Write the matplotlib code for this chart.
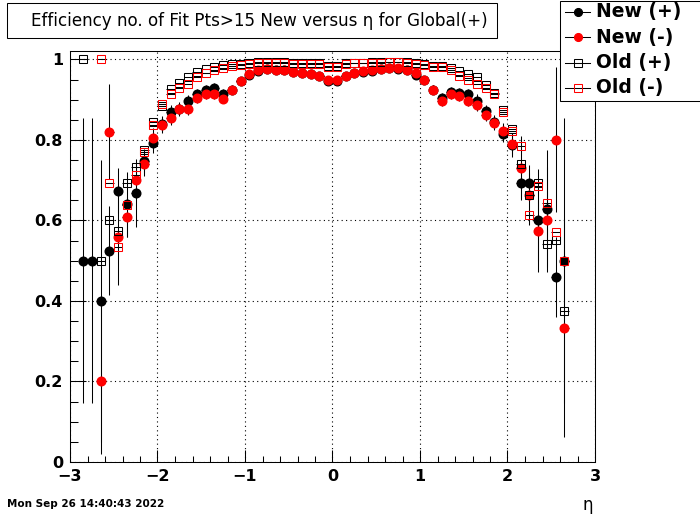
import numpy as np
import matplotlib
matplotlib.use('Agg')
import matplotlib.pyplot as plt
from matplotlib.patches import Rectangle
from matplotlib.lines import Line2D

nan = np.nan

# bin centres in eta
eta = [-2.85, -2.75, -2.65, -2.55, -2.45, -2.35, -2.25, -2.15, -2.05, -1.95,
       -1.85, -1.75, -1.65, -1.55, -1.45, -1.35, -1.25, -1.15, -1.05, -0.95,
       -0.85, -0.75, -0.65, -0.55, -0.45, -0.35, -0.25, -0.15, -0.05, 0.05,
       0.15, 0.25, 0.35, 0.45, 0.55, 0.65, 0.75, 0.85, 0.95, 1.05,
       1.15, 1.25, 1.35, 1.45, 1.55, 1.65, 1.75, 1.85, 1.95, 2.05,
       2.15, 2.25, 2.35, 2.45, 2.55, 2.65]

# New (+) efficiency and error
new_pos = [0.500, 0.500, 0.400, 0.525, 0.674, 0.640, 0.668, 0.748, 0.793, 0.840,
           0.869, 0.878, 0.896, 0.913, 0.924, 0.929, 0.915, 0.925, 0.946, 0.962,
           0.972, 0.976, 0.975, 0.973, 0.968, 0.966, 0.963, 0.958, 0.947, 0.947,
           0.958, 0.966, 0.970, 0.972, 0.976, 0.978, 0.977, 0.974, 0.962, 0.948,
           0.925, 0.905, 0.919, 0.917, 0.913, 0.898, 0.871, 0.845, 0.816, 0.787,
           0.693, 0.693, 0.600, 0.629, 0.460, 0.500]
new_pos_err = [0.354, 0.354, 0.350, 0.111, 0.056, 0.080, 0.085, 0.030, 0.025, 0.020,
               0.018, 0.016, 0.015, 0.013, 0.012, 0.012, 0.012, 0.011, 0.009, 0.007,
               0.006, 0.006, 0.006, 0.006, 0.006, 0.006, 0.006, 0.007, 0.008, 0.008,
               0.007, 0.006, 0.006, 0.006, 0.006, 0.006, 0.006, 0.006, 0.007, 0.009,
               0.011, 0.012, 0.012, 0.012, 0.013, 0.015, 0.016, 0.018, 0.020, 0.030,
               0.040, 0.025, 0.127, 0.145, 0.100, 0.354]

# New (-) efficiency and error
new_neg = [nan, nan, 0.200, 0.820, 0.560, 0.609, 0.700, 0.741, 0.805, 0.838,
           0.855, 0.876, 0.877, 0.905, 0.913, 0.913, 0.903, 0.924, 0.946, 0.963,
           0.974, 0.977, 0.975, 0.973, 0.969, 0.967, 0.964, 0.959, 0.948, 0.948,
           0.959, 0.967, 0.971, 0.973, 0.977, 0.979, 0.979, 0.975, 0.967, 0.948,
           0.925, 0.896, 0.913, 0.910, 0.898, 0.886, 0.863, 0.842, 0.822, 0.791,
           0.731, 0.664, 0.575, 0.602, 0.801, 0.333]
new_neg_err = [0.0, 0.0, 0.180, 0.118, 0.120, 0.050, 0.040, 0.030, 0.025, 0.020,
               0.018, 0.016, 0.015, 0.013, 0.012, 0.012, 0.012, 0.011, 0.009, 0.007,
               0.006, 0.006, 0.006, 0.006, 0.006, 0.006, 0.006, 0.007, 0.008, 0.008,
               0.007, 0.006, 0.006, 0.006, 0.006, 0.006, 0.006, 0.006, 0.007, 0.009,
               0.011, 0.012, 0.012, 0.012, 0.013, 0.015, 0.016, 0.018, 0.020, 0.025,
               0.080, 0.075, 0.075, 0.130, 0.180, 0.270]

# Old (+) and Old (-) efficiency
old_pos = [1.000, nan, 0.500, 0.602, 0.575, 0.692, 0.732, 0.775, 0.845, 0.885,
           0.927, 0.942, 0.957, 0.969, 0.977, 0.982, 0.985, 0.988, 0.989, 0.991,
           0.993, 0.994, 0.994, 0.993, 0.991, 0.990, 0.990, 0.990, 0.984, 0.984,
           0.990, 0.991, 0.991, 0.993, 0.993, 0.994, 0.994, 0.993, 0.990, 0.988,
           0.983, 0.983, 0.979, 0.971, 0.963, 0.957, 0.936, 0.916, 0.874, 0.827,
           0.741, 0.664, 0.692, 0.542, 0.552, 0.375]
old_neg = [nan, nan, 1.000, 0.693, 0.535, 0.638, 0.714, 0.770, 0.836, 0.890,
           0.915, 0.928, 0.940, 0.957, 0.967, 0.973, 0.979, 0.983, 0.985, 0.989,
           0.990, 0.992, 0.992, 0.991, 0.989, 0.989, 0.989, 0.989, 0.982, 0.982,
           0.989, 0.990, 0.990, 0.992, 0.992, 0.993, 0.993, 0.992, 0.989, 0.986,
           0.982, 0.982, 0.973, 0.959, 0.950, 0.940, 0.929, 0.913, 0.869, 0.823,
           0.786, 0.614, 0.685, 0.643, 0.571, 0.500]

half_bin = 0.05

W, H = 700, 514
fig = plt.figure(figsize=(W / 100, H / 100), dpi=100)


def fx(x):
    return x / W


def fy(y):
    return 1 - y / H


ax = fig.add_axes([fx(70), fy(462), fx(595) - fx(70), fy(51) - fy(462)])

lw = 0.75
ax.errorbar(eta, new_pos, yerr=new_pos_err, xerr=half_bin, fmt='o', ms=6.2,
            mfc='k', mec='k', ecolor='k', elinewidth=lw, capsize=0, zorder=3)
ax.errorbar(eta, new_neg, yerr=new_neg_err, xerr=half_bin, fmt='o', ms=6.2,
            mfc='red', mec='red', ecolor='k', elinewidth=lw, capsize=0, zorder=4)
ax.errorbar(eta, old_pos, xerr=half_bin, fmt='s', ms=5.3, mfc='none', mec='k',
            mew=lw, ecolor='k', elinewidth=lw, capsize=0, zorder=5)
ax.errorbar(eta, old_neg, xerr=half_bin, fmt='s', ms=5.3, mfc='none', mec='red',
            mew=lw, ecolor='k', elinewidth=lw, capsize=0, zorder=6)

ax.set_xlim(-3, 3)
ax.set_ylim(0, 1.021)
ax.set_xticks([-3, -2, -1, 0, 1, 2, 3])
ax.set_xticks(np.arange(-3, 3.01, 0.2), minor=True)
ax.set_yticks([0, 0.2, 0.4, 0.6, 0.8, 1.0])
ax.set_yticklabels(['0', '0.2', '0.4', '0.6', '0.8', '1'])
ax.set_yticks(np.arange(0, 1.01, 0.05), minor=True)
ax.tick_params(axis='x', which='major', direction='in', length=8.6, width=lw,
               pad=5, labelsize=11.5)
ax.tick_params(axis='x', which='minor', direction='in', length=4.3, width=lw)
ax.tick_params(axis='y', which='major', direction='in', length=11.5, width=lw,
               pad=5, labelsize=11.5)
ax.tick_params(axis='y', which='minor', direction='in', length=5.8, width=lw)
for lab in ax.get_xticklabels() + ax.get_yticklabels():
    lab.set_fontweight('bold')
ax.grid(True, which='major', color='k', linestyle=(0, (1, 3)), linewidth=0.8)
for s in ax.spines.values():
    s.set_linewidth(lw)

# axis title
fig.text(fx(588), fy(505), 'η', ha='center', va='center', fontsize=12)

# title box
fig.patches.append(Rectangle((fx(7), fy(38)), fx(497) - fx(7), fy(3) - fy(38),
                             transform=fig.transFigure, fc='white', ec='k',
                             lw=lw, zorder=10))
fig.text(fx(259), fy(21), 'Efficiency no. of Fit Pts>15 New versus η for Global(+)',
         ha='center', va='center', fontsize=12.1, zorder=11)

# legend box
fig.patches.append(Rectangle((fx(560), fy(101)), fx(710) - fx(560), fy(0.5) - fy(101),
                             transform=fig.transFigure, fc='white', ec='k',
                             lw=lw, zorder=10))
entries = [('New (+)', 'o', 'k', 'k', 5.8),
           ('New (-)', 'o', 'red', 'red', 5.8),
           ('Old (+)', 's', 'none', 'k', 5.3),
           ('Old (-)', 's', 'none', 'red', 5.3)]
for i, (label, m, fc, ec, ms) in enumerate(entries):
    yy = 12 + 25.3 * i
    fig.add_artist(Line2D([fx(565), fx(590)], [fy(yy), fy(yy)], color='k', lw=lw,
                          transform=fig.transFigure, zorder=11))
    fig.add_artist(Line2D([fx(578)], [fy(yy)], marker=m, ms=ms, mfc=fc, mec=ec,
                          mew=lw, ls='none', transform=fig.transFigure, zorder=12))
    fig.text(fx(596), fy(yy), label, ha='left', va='center', fontsize=13.5,
             fontweight='bold', zorder=12)

# date stamp
fig.text(fx(7), fy(504), 'Mon Sep 26 14:40:43 2022', ha='left', va='center',
         fontsize=7.5, fontweight='bold')

fig.savefig('out.png', dpi=100)
